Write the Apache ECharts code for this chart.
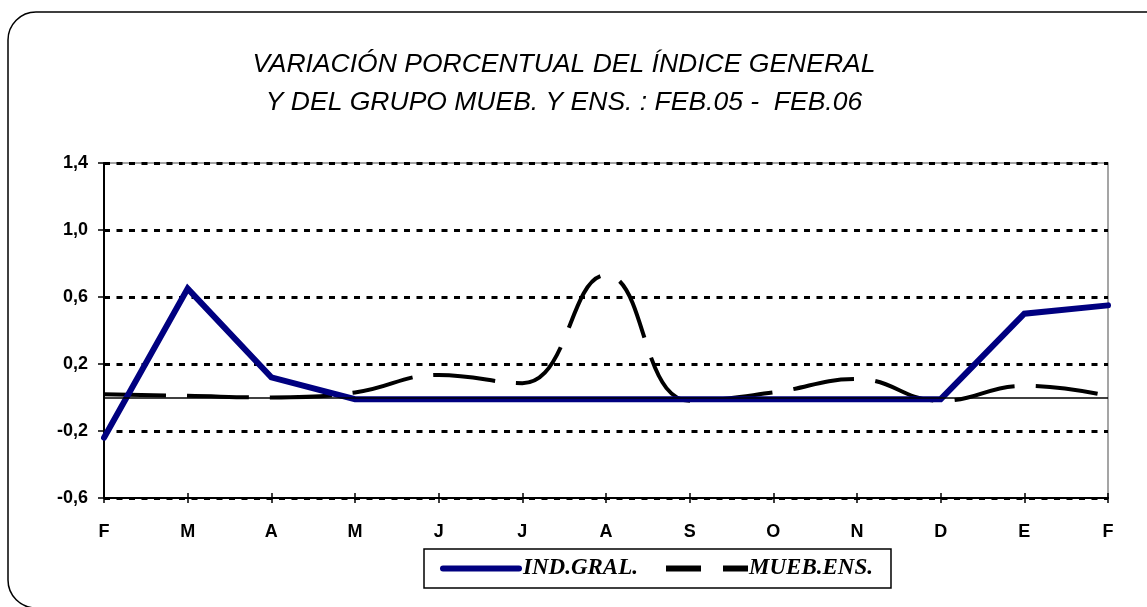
<!DOCTYPE html>
<html>
<head>
<meta charset="utf-8">
<script src="https://cdn.jsdelivr.net/npm/echarts@6/dist/echarts.min.js"></script>
<style>
html,body{margin:0;padding:0;background:#fff;}
#chart{width:1147px;height:607px;}
</style>
</head>
<body>
<div id="chart"></div>
<script>
// meses feb.05 - feb.06
var meses = ['F','M','A','M','J','J','A','S','O','N','D','E','F'];
var indGral = [-0.24, 0.65, 0.12, -0.01, -0.01, -0.01, -0.01, -0.01, -0.01, -0.01, -0.01, 0.50, 0.55];
var muebEns = [0.02, 0.01, 0.0, 0.03, 0.135, 0.085, 0.73, -0.02, 0.03, 0.11, -0.02, 0.07, 0.01];
var ejeY = {min: -0.6, max: 1.4, paso: 0.4};

var myChart = echarts.init(document.getElementById('chart'));
var fuente = 'Liberation Sans';

var chartOption = {
	animation: false,
	backgroundColor: '#fff',
	title: {
		text: 'VARIACIÓN PORCENTUAL DEL ÍNDICE GENERAL\nY DEL GRUPO MUEB. Y ENS. : FEB.05 -  FEB.06',
		left: 559,
		textAlign: 'center',
		top: 41,
		textStyle: {
			fontFamily: fuente,
			fontStyle: 'italic',
			fontWeight: 'normal',
			fontSize: 26.5,
			lineHeight: 38,
			color: '#000'
		}
	},
	graphic: [{
		type: 'rect',
		shape: {x: 8, y: 12, width: 1170, height: 596, r: 28},
		style: {fill: 'none', stroke: '#000', lineWidth: 1.5},
		silent: true
	}],
	legend: {
		left: 424,
		top: 549,
		itemWidth: 82,
		itemHeight: 6,
		itemGap: 28,
		padding: [8, 18, 8, 16],
		borderColor: '#000',
		borderWidth: 1.5,
		textStyle: {
			fontFamily: 'Liberation Serif',
			fontStyle: 'italic',
			fontWeight: 'bold',
			fontSize: 23,
			color: '#000',
			padding: [0, 0, 0, -4]
		},
		data: [
			{name: 'IND.GRAL.', icon: 'path://M3,0 L79,0 A3,3 0 0 1 79,6 L3,6 A3,3 0 0 1 3,0 Z', lineStyle: {width: 0}},
			{name: 'MUEB.ENS.', icon: 'path://M0,0 L35,0 L35,6 L0,6 Z M57,0 L82,0 L82,6 L57,6 Z', lineStyle: {width: 0}}
		]
	},
	grid: {
		left: 104,
		right: 39,
		top: 163,
		bottom: 109,
		show: true,
		borderColor: '#888',
		borderWidth: 1.5
	},
	xAxis: [{
		type: 'category',
		data: meses,
		boundaryGap: false,
		axisLine: {onZero: false, lineStyle: {color: '#000', width: 2}},
		axisTick: {show: true, length: 5, lineStyle: {color: '#000', width: 1.5}},
		axisLabel: {
			margin: 25,
			fontFamily: fuente,
			fontWeight: 'bold',
			fontSize: 18,
			color: '#000',
			interval: 0
		},
		splitLine: {show: false}
	}, {
		type: 'category',
		data: meses,
		boundaryGap: false,
		position: 'bottom',
		axisLine: {show: false, onZero: false},
		axisTick: {show: true, inside: true, length: 5, lineStyle: {color: '#000', width: 1.5}},
		axisLabel: {show: false},
		splitLine: {show: false}
	}],
	yAxis: {
		type: 'value',
		min: ejeY.min,
		max: ejeY.max,
		interval: ejeY.paso,
		axisLine: {show: true, lineStyle: {color: '#000', width: 2}},
		axisTick: {show: true, length: 6, lineStyle: {color: '#000', width: 1.5}},
		axisLabel: {
			margin: 16,
			fontFamily: fuente,
			fontWeight: 'bold',
			fontSize: 18,
			color: '#000',
			formatter: function (v) {
				return v.toFixed(1).replace('.', ',');
			}
		},
		splitLine: {
			show: true,
			lineStyle: {color: '#000', width: 3, type: [6, 6.5]}
		}
	},
	series: [{
		name: 'MUEB.ENS.',
		type: 'line',
		data: muebEns,
		smooth: 0.45,
		symbol: 'none',
		z: 2,
		color: '#000',
		lineStyle: {color: '#000', width: 4, type: [62, 21]}
	}, {
		name: 'IND.GRAL.',
		type: 'line',
		data: indGral,
		symbol: 'none',
		z: 3,
		color: '#000080',
		lineStyle: {color: '#000080', width: 6, cap: 'round', join: 'miter'}
	}, {
		name: 'cero',
		type: 'line',
		data: [],
		z: 4,
		silent: true,
		markLine: {
			silent: true,
			symbol: 'none',
			label: {show: false},
			lineStyle: {color: '#000', width: 1.5, type: 'solid'},
			data: [{yAxis: 0}]
		}
	}]
};
myChart.setOption(chartOption);
</script>
</body>
</html>
